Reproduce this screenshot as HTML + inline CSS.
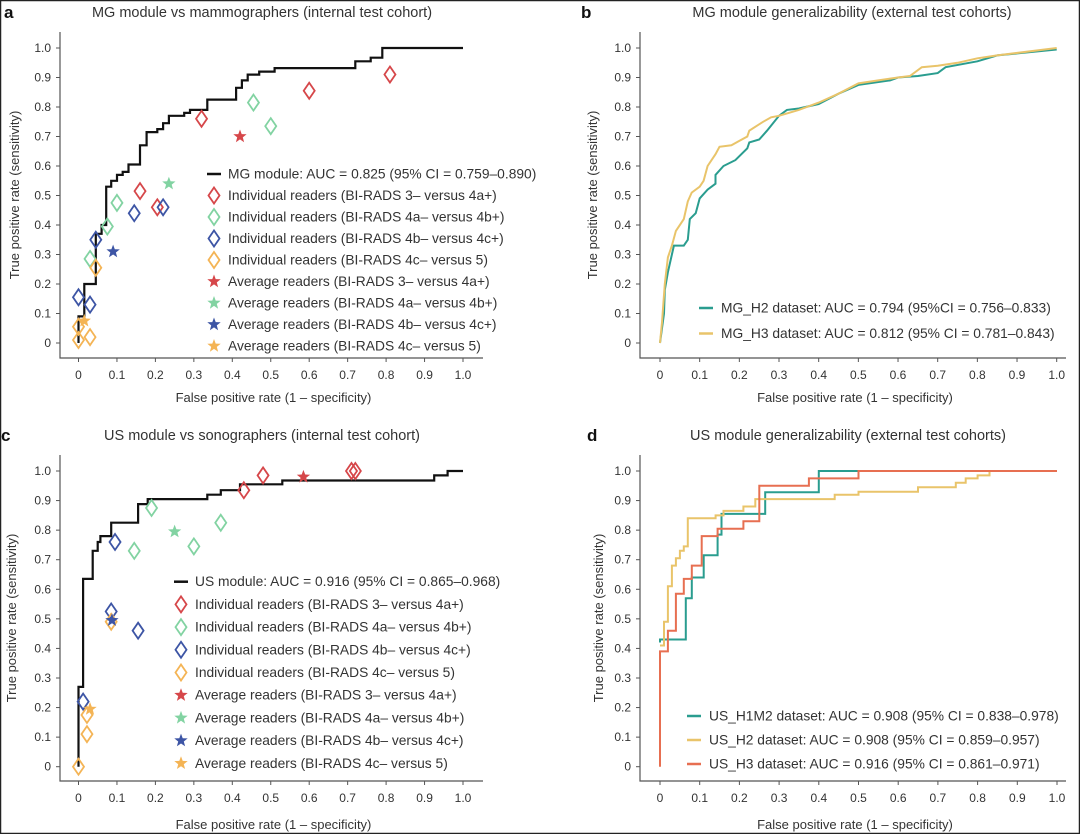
<!DOCTYPE html>
<html><head><meta charset="utf-8">
<style>
html,body{margin:0;padding:0;background:#fff;}
svg{display:block;font-family:"Liberation Sans",sans-serif;}
</style></head>
<body>
<svg id="chart" width="1080" height="834" viewBox="0 0 1080 834">
<rect x="0.5" y="0.5" width="1079" height="833" fill="#fff" stroke="#222" stroke-width="1.5"/>
</svg>
<script>
// ---- Panel a data ----
const aCurveX=[0,0,0.015,0.015,0.045,0.045,0.06,0.06,0.072,0.072,0.085,0.085,0.1,0.1,0.115,0.115,0.13,0.13,0.16,0.16,0.177,0.177,0.205,0.205,0.22,0.22,0.235,0.235,0.275,0.275,0.29,0.29,0.335,0.335,0.41,0.41,0.425,0.425,0.44,0.44,0.47,0.47,0.51,0.51,0.72,0.72,0.76,0.76,0.79,0.79,1];
const aCurveY=[0,0.09,0.09,0.2,0.2,0.37,0.37,0.4,0.4,0.53,0.53,0.55,0.55,0.57,0.57,0.58,0.58,0.605,0.605,0.67,0.67,0.715,0.715,0.725,0.725,0.745,0.745,0.77,0.77,0.78,0.78,0.79,0.79,0.825,0.825,0.865,0.865,0.89,0.89,0.91,0.91,0.92,0.92,0.932,0.932,0.955,0.955,0.967,0.967,1,1];
const aRedX=[0.16,0.205,0.32,0.6,0.81], aRedY=[0.515,0.46,0.76,0.855,0.91];
const aGreenX=[0.03,0.075,0.1,0.455,0.5], aGreenY=[0.285,0.395,0.475,0.815,0.735];
const aBlueX=[0,0.03,0.045,0.145,0.22], aBlueY=[0.155,0.13,0.35,0.44,0.46];
const aOrangeX=[0,0,0.03,0.045], aOrangeY=[0.055,0.01,0.02,0.255];
const aStarX=[0.42,0.235,0.09,0.015], aStarY=[0.70,0.54,0.31,0.075];
// ---- Panel b data ----
const bH2X=[0,0.005,0.01,0.012,0.02,0.03,0.035,0.06,0.07,0.075,0.09,0.1,0.12,0.14,0.14,0.16,0.19,0.22,0.225,0.25,0.27,0.3,0.32,0.35,0.4,0.45,0.5,0.58,0.6,0.65,0.7,0.72,0.8,0.85,1];
const bH2Y=[0,0.05,0.1,0.18,0.24,0.3,0.33,0.33,0.35,0.42,0.44,0.49,0.52,0.54,0.57,0.6,0.62,0.66,0.68,0.69,0.72,0.77,0.79,0.795,0.81,0.845,0.875,0.89,0.9,0.905,0.915,0.935,0.955,0.975,0.995];
const bH3X=[0,0.005,0.012,0.02,0.03,0.04,0.06,0.07,0.08,0.1,0.11,0.12,0.14,0.15,0.18,0.2,0.22,0.225,0.26,0.28,0.3,0.35,0.4,0.45,0.5,0.55,0.6,0.63,0.66,0.7,0.75,0.8,0.85,1];
const bH3Y=[0,0.07,0.2,0.29,0.33,0.38,0.42,0.48,0.51,0.53,0.55,0.6,0.64,0.665,0.67,0.685,0.7,0.72,0.75,0.765,0.77,0.79,0.815,0.845,0.88,0.89,0.9,0.905,0.935,0.94,0.95,0.965,0.975,1];
// ---- Panel c data ----
const cCurveX=[0,0,0.012,0.012,0.037,0.037,0.05,0.05,0.057,0.057,0.085,0.085,0.155,0.155,0.18,0.18,0.335,0.335,0.37,0.37,0.42,0.42,0.53,0.53,0.925,0.925,0.96,0.96,1];
const cCurveY=[0,0.27,0.27,0.635,0.635,0.73,0.73,0.76,0.76,0.78,0.78,0.825,0.825,0.888,0.888,0.905,0.905,0.92,0.92,0.935,0.935,0.955,0.955,0.968,0.968,0.985,0.985,1,1];
const cRedX=[0.43,0.48,0.71,0.72], cRedY=[0.935,0.985,1.0,1.0];
const cGreenX=[0.145,0.19,0.3,0.37], cGreenY=[0.73,0.875,0.745,0.825];
const cBlueX=[0.012,0.085,0.095,0.155], cBlueY=[0.22,0.525,0.76,0.46];
const cOrangeX=[0,0.022,0.022,0.085], cOrangeY=[0,0.11,0.175,0.49];
const cStarX=[0.585,0.25,0.087,0.03], cStarY=[0.98,0.795,0.495,0.195];
// ---- Panel d data ----
const dH1X=[0,0,0.065,0.065,0.08,0.08,0.11,0.11,0.145,0.145,0.155,0.155,0.265,0.265,0.4,0.4,0.5];
const dH1Y=[0.42,0.43,0.43,0.57,0.57,0.64,0.64,0.715,0.715,0.785,0.785,0.855,0.855,0.928,0.928,1,1];
const dH2X=[0,0.01,0.01,0.02,0.02,0.03,0.03,0.04,0.04,0.05,0.05,0.06,0.06,0.07,0.07,0.14,0.14,0.16,0.16,0.21,0.21,0.24,0.24,0.44,0.44,0.5,0.5,0.65,0.65,0.745,0.745,0.77,0.77,0.8,0.8,0.83,0.83];
const dH2Y=[0.41,0.41,0.49,0.49,0.61,0.61,0.68,0.68,0.705,0.705,0.73,0.73,0.745,0.745,0.84,0.84,0.85,0.85,0.865,0.865,0.88,0.88,0.905,0.905,0.92,0.92,0.93,0.93,0.945,0.945,0.96,0.96,0.975,0.975,0.985,0.985,1];
const dH3X=[0,0,0.02,0.02,0.04,0.04,0.06,0.06,0.08,0.08,0.105,0.105,0.145,0.145,0.21,0.21,0.25,0.25,0.375,0.375,0.5,0.5,1];
const dH3Y=[0,0.39,0.39,0.46,0.46,0.585,0.585,0.635,0.635,0.68,0.68,0.78,0.78,0.805,0.805,0.83,0.83,0.95,0.95,0.975,0.975,1,1];
// ticks
const xTicks=[0,0.1,0.2,0.3,0.4,0.5,0.6,0.7,0.8,0.9,1.0];
const xTickLabels=["0","0.1","0.2","0.3","0.4","0.5","0.6","0.7","0.8","0.9","1.0"];
const yTicks=[0,0.1,0.2,0.3,0.4,0.5,0.6,0.7,0.8,0.9,1.0];
const yTickLabels=["0","0.1","0.2","0.3","0.4","0.5","0.6","0.7","0.8","0.9","1.0"];

const NS="http://www.w3.org/2000/svg";
const svg=document.getElementById('chart');
const C={red:"#d6474a",green:"#82d3a2",blue:"#3d55a5",orange:"#f4b455",teal:"#2a9d8f",yellow:"#e9c46a",ored:"#e76f51",text:"#333"};
function mk(tag,attrs,parent){const e=document.createElementNS(NS,tag);for(const k in attrs)e.setAttribute(k,attrs[k]);(parent||svg).appendChild(e);return e;}
function txt(s,attrs,parent){const e=mk('text',attrs,parent);e.textContent=s;return e;}

function panel(p){
  const g=mk('g',{});
  
  
  const sx=v=>p.x0+(p.x1-p.x0)*v, sy=v=>p.y0-(p.y0-p.y1)*v;
  p.sx=sx;p.sy=sy;
  const ax=mk('path',{d:`M${p.axL},${p.axT}V${p.axB}H${p.axR}`,fill:'none',stroke:'#555','stroke-width':1.2},g);
  
  
  xTicks.forEach((t,i)=>{
    mk('line',{x1:sx(t),x2:sx(t),y1:p.axB,y2:p.axB+4,stroke:'#555'},g);
    const l=txt(xTickLabels[i],{x:sx(t),y:p.axB+21,'text-anchor':'middle','font-size':12,fill:C.text},g);
    
    
  });
  yTicks.forEach((t,i)=>{
    mk('line',{x1:p.axL-4,x2:p.axL,y1:sy(t),y2:sy(t),stroke:'#555'},g);
    const l=txt(yTickLabels[i],{x:p.axL-9,y:sy(t)+4,'text-anchor':'end','font-size':12,fill:C.text},g);
    
    
  });
  const xt=txt('False positive rate (1 – specificity)',{x:(p.axL+p.axR)/2+2,y:p.xtY,'text-anchor':'middle','font-size':13,fill:C.text},g);
  
  
  const yt=txt('True positive rate (sensitivity)',{x:0,y:0,'text-anchor':'middle','font-size':13,fill:C.text,transform:`translate(${p.ytX},${(p.axT+p.axB)/2}) rotate(-90)`},g);
  
  
  const ti=txt(p.title,{x:p.titleX,y:p.titleY,'text-anchor':'middle','font-size':14.5,fill:C.text},g);
  
  
  const le=txt(p.letter,{x:p.letterX,y:p.titleY+1,'font-size':17,'font-weight':'bold',fill:'#111'},g);
  
  
  p.g=g;
  return p;
}
function line(p,xs,ys,color,w,name){
  const d=xs.map((x,i)=>(i?'L':'M')+p.sx(x).toFixed(1)+','+p.sy(ys[i]).toFixed(1)).join('');
  const e=mk('path',{d,fill:'none',stroke:color,'stroke-width':w,'stroke-linejoin':'miter'},p.g);
  
  
}
function diamondPath(cx,cy){return `M${cx},${cy-8}L${cx+5.5},${cy}L${cx},${cy+8}L${cx-5.5},${cy}Z`;}
function starPath(cx,cy,r){let d='';for(let i=0;i<10;i++){const a=-Math.PI/2+i*Math.PI/5;const rr=i%2?r*0.42:r;d+=(i?'L':'M')+(cx+rr*Math.cos(a)).toFixed(1)+','+(cy+rr*Math.sin(a)).toFixed(1);}return d+'Z';}
function diamonds(p,xs,ys,color,name){
  xs.forEach((x,i)=>{const e=mk('path',{d:diamondPath(p.sx(x),p.sy(ys[i])),fill:'none',stroke:color,'stroke-width':1.8},p.g);
    
    });
}
function stars(p,xs,ys,colors,name){
  xs.forEach((x,i)=>{const e=mk('path',{d:starPath(p.sx(x),p.sy(ys[i]),7),fill:colors[i]},p.g);
    
    });
}
function legend(p,items,lx,tx,y0,dy){
  const g=mk('g',{},p.g);
  
  
  items.forEach((it,i)=>{
    const y=y0+dy*i;
    if(it.type==='line') mk('line',{x1:lx,x2:lx+14,y1:y,y2:y,stroke:it.color,'stroke-width':2.5},g);
    else if(it.type==='diamond') mk('path',{d:diamondPath(lx+7,y),fill:'none',stroke:it.color,'stroke-width':1.8},g);
    else mk('path',{d:starPath(lx+7,y,7),fill:it.color},g);
    const t=txt(it.label,{x:tx,y:y+4.5,'font-size':13.8,fill:C.text},g);
    
    
  });
}
const readerItems=[
 {type:'diamond',color:C.red,label:'Individual readers (BI-RADS 3– versus 4a+)'},
 {type:'diamond',color:C.green,label:'Individual readers (BI-RADS 4a– versus 4b+)'},
 {type:'diamond',color:C.blue,label:'Individual readers (BI-RADS 4b– versus 4c+)'},
 {type:'diamond',color:C.orange,label:'Individual readers (BI-RADS 4c– versus 5)'},
 {type:'star',color:C.red,label:'Average readers (BI-RADS 3– versus 4a+)'},
 {type:'star',color:C.green,label:'Average readers (BI-RADS 4a– versus 4b+)'},
 {type:'star',color:C.blue,label:'Average readers (BI-RADS 4b– versus 4c+)'},
 {type:'star',color:C.orange,label:'Average readers (BI-RADS 4c– versus 5)'}];
const starColors=[C.red,C.green,C.blue,C.orange];

// Panel a
const pa=panel({name:'panel-a',x0:78.5,x1:463,y0:343,y1:48,axL:60,axT:32,axB:358,axR:483,xtY:402,ytX:19,title:'MG module vs mammographers (internal test cohort)',titleX:262,titleY:17,letter:'a',letterX:4});
line(pa,aCurveX,aCurveY,'#111',2.2,'mg-module-roc');
diamonds(pa,aRedX,aRedY,C.red,'reader-3-vs-4a');
diamonds(pa,aGreenX,aGreenY,C.green,'reader-4a-vs-4b');
diamonds(pa,aBlueX,aBlueY,C.blue,'reader-4b-vs-4c');
diamonds(pa,aOrangeX,aOrangeY,C.orange,'reader-4c-vs-5');
stars(pa,aStarX,aStarY,starColors,'average-reader');
legend(pa,[{type:'line',color:'#111',label:'MG module: AUC = 0.825 (95% CI = 0.759–0.890)'}].concat(readerItems),207,228,174,21.5);

// Panel b
const pb=panel({name:'panel-b',x0:660,x1:1056.7,y0:343,y1:48,axL:640,axT:32,axB:358,axR:1066,xtY:402,ytX:597,title:'MG module generalizability (external test cohorts)',titleX:852,titleY:17,letter:'b',letterX:581});
line(pb,bH2X,bH2Y,C.teal,2,'mg-h2-roc');
line(pb,bH3X,bH3Y,C.yellow,2,'mg-h3-roc');
legend(pb,[{type:'line',color:C.teal,label:'MG_H2 dataset: AUC = 0.794 (95%CI = 0.756–0.833)'},{type:'line',color:C.yellow,label:'MG_H3 dataset: AUC = 0.812 (95% CI = 0.781–0.843)'}],699,721,308,25.5);

// Panel c
const pc=panel({name:'panel-c',x0:78.5,x1:463,y0:766.7,y1:471,axL:60,axT:455,axB:781,axR:483,xtY:829,ytX:16,title:'US module vs sonographers (internal test cohort)',titleX:262,titleY:440,letter:'c',letterX:1});
line(pc,cCurveX,cCurveY,'#111',2.2,'us-module-roc');
diamonds(pc,cRedX,cRedY,C.red,'reader-3-vs-4a');
diamonds(pc,cGreenX,cGreenY,C.green,'reader-4a-vs-4b');
diamonds(pc,cBlueX,cBlueY,C.blue,'reader-4b-vs-4c');
diamonds(pc,cOrangeX,cOrangeY,C.orange,'reader-4c-vs-5');
stars(pc,cStarX,cStarY,starColors,'average-reader');
legend(pc,[{type:'line',color:'#111',label:'US module: AUC = 0.916 (95% CI = 0.865–0.968)'}].concat(readerItems),174,195,581.7,22.7);

// Panel d
const pd=panel({name:'panel-d',x0:660,x1:1057,y0:766.7,y1:471,axL:640,axT:455,axB:781,axR:1066,xtY:829,ytX:603,title:'US module generalizability (external test cohorts)',titleX:848,titleY:440,letter:'d',letterX:587});
line(pd,dH1X,dH1Y,C.teal,2,'us-h1m2-roc');
line(pd,dH2X,dH2Y,C.yellow,2,'us-h2-roc');
line(pd,dH3X,dH3Y,C.ored,2,'us-h3-roc');
legend(pd,[{type:'line',color:C.teal,label:'US_H1M2 dataset: AUC = 0.908 (95% CI = 0.838–0.978)'},{type:'line',color:C.yellow,label:'US_H2 dataset: AUC = 0.908 (95% CI = 0.859–0.957)'},{type:'line',color:C.ored,label:'US_H3 dataset: AUC = 0.916 (95% CI = 0.861–0.971)'}],687,709,716,24);
</script>
</body></html>
